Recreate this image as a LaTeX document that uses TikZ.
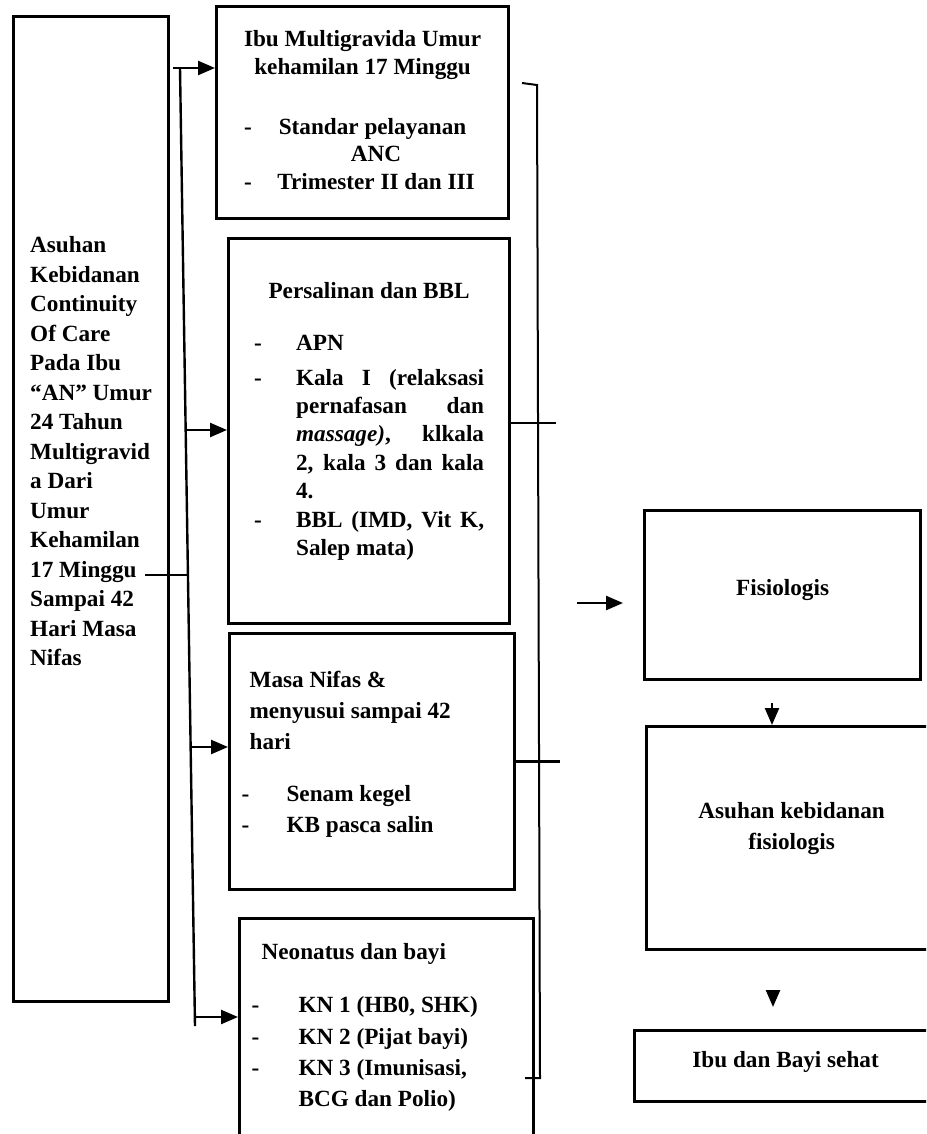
\documentclass[tikz,border=0pt]{standalone}
\usepackage{fontspec}
\setmainfont{Liberation Serif}
\usepackage{array}
\usetikzlibrary{arrows.meta}
\hbadness=10000

\begin{document}
\begin{tikzpicture}[x=0.5pt,y=-0.5pt,
    box/.style={draw,line width=1.6pt,inner sep=0pt,anchor=north west},
    lines/.style={font=\bfseries\fontsize{11.6}{#1}\selectfont},
    line/.style={line width=1.2pt},
    arr/.style={line width=1.2pt,-{Triangle[length=8.5pt,width=7pt]}}]
  \useasboundingbox (0,0) rectangle (926,1134);
  \clip (0,0) rectangle (926,1134);

  \node[box,lines=14.75,minimum width=77.5pt,minimum height=492.5pt] (main) at (12,15) {%
    \begin{tabular}{@{}l@{}}
    Asuhan\\ Kebidanan\\ Continuity\\ Of Care\\ Pada Ibu\\ “AN” Umur\\ 24 Tahun\\
    Multigravid\\ a Dari\\ Umur\\ Kehamilan\\ 17 Minggu\\ Sampai 42\\ Hari Masa\\ Nifas\\[56pt]
    \end{tabular}};

  \node[box,lines=13.8,minimum width=146pt,minimum height=106pt] (anc) at (215,5) {%
    \begin{tabular}{@{}p{14pt}@{}>{\centering\arraybackslash}p{104pt}@{}}
    \multicolumn{2}{@{}c@{}}{Ibu Multigravida Umur}\\
    \multicolumn{2}{@{}c@{}}{kehamilan 17 Minggu}\\[16pt]
    - & Standar pelayanan\newline ANC\\[3pt]
    - & Trimester II dan III
    \end{tabular}};

  \node[box,lines=14.2,minimum width=140.5pt,minimum height=192.5pt] (bbl) at (227,237) {%
    \begin{tabular}{@{}p{21pt}@{}p{94pt}@{}}
    \multicolumn{2}{@{}c@{}}{Persalinan dan BBL}\\[12pt]
    - & APN\\[3pt]
    - & Kala I (relaksasi\linebreak pernafasan dan\linebreak \textit{massage)}, klkala\linebreak 2, kala 3 dan kala\linebreak 4.\\[8pt]
    - & BBL (IMD, Vit K,\linebreak Salep mata)\\[24pt]
    \end{tabular}};

  \node[box,lines=15.7,minimum width=142.5pt,minimum height=128pt] (nifas) at (228,632) {%
    \begin{tabular}{@{}p{22.5pt}@{}p{108pt}@{}}
    \multicolumn{2}{@{\hspace{4pt}}l@{}}{Masa Nifas \&}\\
    \multicolumn{2}{@{\hspace{4pt}}l@{}}{menyusui sampai 42}\\
    \multicolumn{2}{@{\hspace{4pt}}l@{}}{hari}\\[10pt]
    - & Senam kegel\\
    - & KB pasca salin\\[8pt]
    \end{tabular}};

  \node[box,lines=15.7,minimum width=147pt,minimum height=114pt] (neo) at (238,917) {%
    \begin{tabular}{@{}p{23.5pt}@{}p{111.5pt}@{}}
    \multicolumn{2}{@{\hspace{5pt}}l@{}}{Neonatus dan bayi}\\[11pt]
    - & KN 1 (HB0, SHK)\\
    - & KN 2 (Pijat bayi)\\
    - & KN 3 (Imunisasi,\newline BCG dan Polio)\\[21.5pt]
    \end{tabular}};

  \node[box,lines=15.5,minimum width=138pt,minimum height=84.5pt] (fis) at (643,509) {%
    \begin{tabular}{@{}c@{}}Fisiologis\\[6pt]\end{tabular}};
  \node[box,lines=15.5,minimum width=145pt,minimum height=111.5pt] (akf) at (645,725) {%
    \begin{tabular}{@{}c@{}}Asuhan kebidanan\\ fisiologis\\[10pt]\end{tabular}};
  \node[box,lines=15.5,minimum width=151pt,minimum height=35.5pt] (sehat) at (633,1029) {%
    \begin{tabular}{@{}c@{}}Ibu dan Bayi sehat\\[5pt]\end{tabular}};

  \coordinate (bt) at (180,68);
  \coordinate (bb) at (195,1026);
  \draw[line] (bt) -- (bb);
  \coordinate (m1) at (145,575);
  \coordinate (m2) at (188,575);
  \draw[line] (m1) -- (m2);

  \coordinate (a1) at (173,68);
  \coordinate (a2) at (185.7,430);
  \coordinate (a3) at (190.7,747);
  \coordinate (a4) at (194.9,1017);
  \draw[arr] (a1) -- (a1 -| anc.west);
  \draw[arr] (a2) -- (a2 -| bbl.west);
  \draw[arr] (a3) -- (a3 -| nifas.west);
  \draw[arr] (a4) -- (a4 -| neo.west);

  \draw[line width=1pt] (522,83) -- (537,85) -- (540,1078) -- (525,1078);
  \draw[line] ([yshift=4pt]bbl.east) -- ++(45,0);
  \draw[line] (nifas.east) -- ++(44,0);

  \coordinate (f1) at (577,603);
  \coordinate (f2) at (623,603);
  \draw[arr] (f1) -- (f2);
  \coordinate (d1) at (772,703);
  \draw[arr] (d1) -- (d1 |- akf.north);
  \coordinate (d2) at (773,990);
  \coordinate (d3) at (773,1007);
  \draw[arr] (d2) -- (d3);
\end{tikzpicture}
\end{document}
